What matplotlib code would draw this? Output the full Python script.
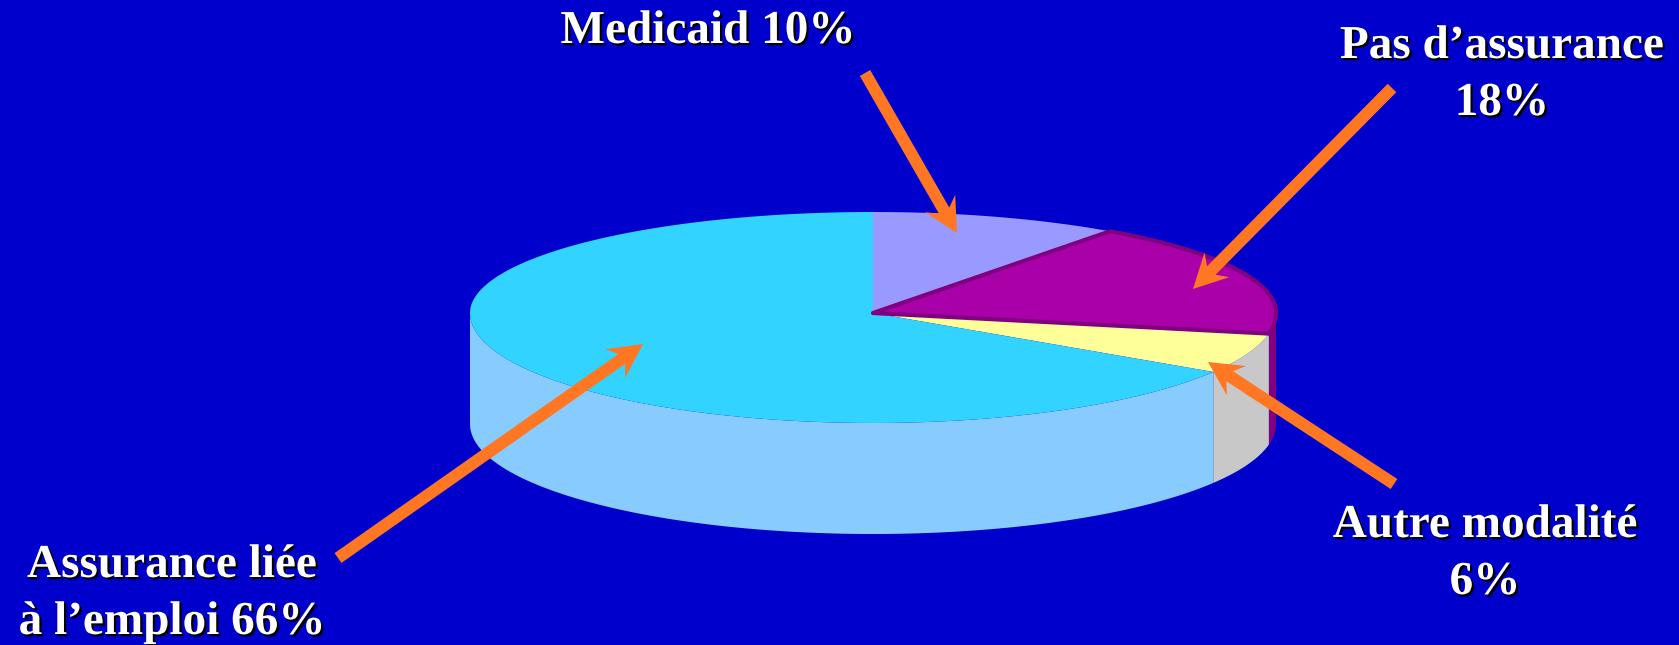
import numpy as np
import matplotlib
matplotlib.use("Agg")
import matplotlib.pyplot as plt
from matplotlib.patches import Polygon
from matplotlib import patheffects

# health coverage shares, drawn clockwise from 12 o'clock
labels = ["Medicaid", "Pas d’assurance", "Autre modalité", "Assurance liée\nà l’emploi"]
shares = [10, 18, 6, 66]
label_sep = [" ", "\n", "\n", " "]
top_colors = ["#9999FF", "#AA00AA", "#FFFF99", "#33D3FF"]
side_colors = ["#7777DD", "#800080", "#C8C8C8", "#88CCFF"]
edge_colors = [None, "#800080", None, None]

# label anchors (centre x, first baseline y) and arrow tail -> tip, in pixels
label_pos = [(708, 43), (1502, 58), (1485, 537), (172, 577)]
arrow_tail = [(865, 73), (1392, 88), (1394, 484), (338, 558)]
arrow_tip = [(957, 233), (1193, 289), (1208, 362), (643, 344)]

W, H = 1679, 645
BG = "#0000CC"
ORANGE = "#FF7722"

# tilted pie geometry (pixels)
CX, CY = 873, 313
RX = 403
RY_BACK, RY_FRONT = 101, 110
DEPTH = 111


def rim(theta, dy=0.0):
    theta = np.atleast_1d(theta)
    ry = np.where(np.sin(theta) > 0, RY_BACK, RY_FRONT)
    return np.column_stack([CX + RX * np.cos(theta), CY - ry * np.sin(theta) + dy])


def arrow_poly(tail, tip, shaft=12, head_len=34, head_half=17.5, notch=26):
    tail = np.asarray(tail, float)
    tip = np.asarray(tip, float)
    d = tip - tail
    u = d / np.hypot(*d)
    n = np.array([-u[1], u[0]])
    s = shaft / 2
    pts = [
        tail + n * s,
        tip - u * notch + n * s,
        tip - u * head_len + n * head_half,
        tip,
        tip - u * head_len - n * head_half,
        tip - u * notch - n * s,
        tail - n * s,
    ]
    return np.array(pts)


fig = plt.figure(figsize=(W / 100, H / 100), dpi=100, facecolor=BG)
ax = fig.add_axes([0, 0, 1, 1])
ax.set_xlim(0, W)
ax.set_ylim(H, 0)
ax.set_axis_off()
ax.set_facecolor(BG)

starts = 90 - 3.6 * np.concatenate([[0], np.cumsum(shares)[:-1]])
ends = starts - 3.6 * np.array(shares)

# front side walls
for a1, a2, col in zip(starts, ends, side_colors):
    lo, hi = max(a2, -180), min(a1, 0)
    if lo >= hi:
        continue
    t = np.radians(np.linspace(hi, lo, 200))
    top = rim(t)
    bottom = rim(t, DEPTH)[::-1]
    ax.add_patch(Polygon(np.vstack([top, bottom]), closed=True,
                         facecolor=col, edgecolor="none", zorder=1))

# top faces
for a1, a2, col, ec in zip(starts, ends, top_colors, edge_colors):
    t = np.radians(np.linspace(a1, a2, 300))
    pts = np.vstack([[CX, CY], rim(t)])
    ax.add_patch(Polygon(pts, closed=True, facecolor=col,
                         edgecolor=ec if ec else "none",
                         linewidth=3 if ec else 0, joinstyle="round",
                         zorder=3 if ec else 2))

# arrows
for tail, tip in zip(arrow_tail, arrow_tip):
    ax.add_patch(Polygon(arrow_poly(tail, tip), closed=True,
                         facecolor=ORANGE, edgecolor="none", zorder=5))

# labels
shadow = [patheffects.withSimplePatchShadow(offset=(1.6, -1.6),
                                            shadow_rgbFace="black", alpha=1.0)]
for name, share, sep, (x, y) in zip(labels, shares, label_sep, label_pos):
    text = f"{name}{sep}{share}%"
    for i, line in enumerate(text.split("\n")):
        ax.text(x, y + i * 57, line, ha="center", va="baseline",
                fontsize=34, fontweight="bold", family="Liberation Serif",
                color="white", path_effects=shadow, zorder=6)

fig.savefig("out.png", dpi=100, facecolor=BG)
